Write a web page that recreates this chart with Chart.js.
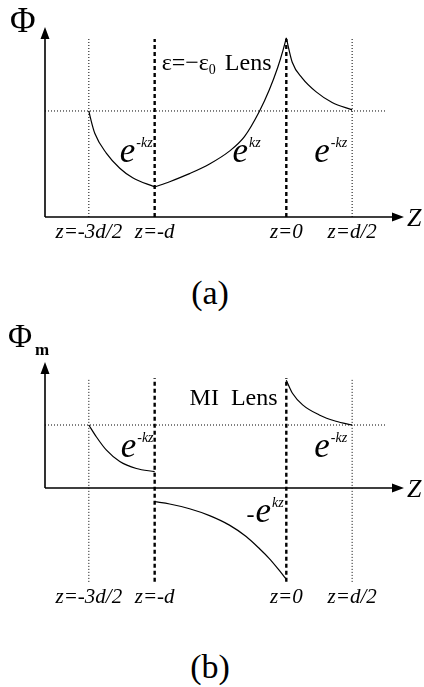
<!DOCTYPE html>
<html lang="en">
  <head>
    <meta charset="UTF-8" />
    <title>Potential profiles - lens</title>
    <script src="https://cdn.jsdelivr.net/npm/chart.js@4.4.0/dist/chart.umd.min.js"></script>
    <style>
      html, body { margin: 0; padding: 0; background: #fff; }
      body {
        width: 424px; height: 687px; position: relative; overflow: hidden;
        font-family: "Liberation Serif", "Times New Roman", serif;
      }
      .panel { position: absolute; left: 0; width: 424px; }
      #wrapA { top: 0; height: 245px; }
      #wrapB { top: 310px; height: 300px; }
      .caption {
        position: absolute; left: 0; width: 420px; text-align: center;
        font-size: 34px; line-height: 34px; color: #000;
      }
    </style>
  </head>
  <body>
    <div class="panel" id="wrapA"><canvas id="chartA" width="424" height="245"></canvas></div>
    <div class="caption" style="top: 276px">(a)</div>
    <div class="panel" id="wrapB"><canvas id="chartB" width="424" height="300"></canvas></div>
    <div class="caption" style="top: 650px">(b)</div>

    <script>
      // z positions (in units of d) and their labels
      const zTicks = [-1.5, -1, 0, 0.5];
      const zTickLabels = ["z=-3d/2", "z=-d", "z=0", "z=d/2"];

      // (a)  eps = -eps0 lens, potential Phi
      const aLeftZ = [-1.5, -1.485, -1.455, -1.366, -1.265, -1.167, -1.0];
      const aLeftPhi = [1.0, 0.92, 0.79, 0.6, 0.46, 0.37, 0.283];
      const aMidZ = [-1.0, -0.886, -0.735, -0.583, -0.432, -0.318, -0.205, -0.129, -0.066, -0.028, 0];
      const aMidPhi = [0.283, 0.333, 0.409, 0.5, 0.621, 0.758, 0.995, 1.2, 1.408, 1.56, 1.689];
      const aRightZ = [0, 0.045, 0.121, 0.227, 0.348, 0.5];
      const aRightPhi = [1.689, 1.46, 1.31, 1.18, 1.08, 1.01];

      // (b)  MI lens, magnetic potential Phi_m
      const bLeftZ = [-1.5, -1.442, -1.366, -1.265, -1.139, -1.0];
      const bLeftPhi = [1.0, 0.81, 0.6, 0.42, 0.31, 0.26];
      const bMidZ = [-1.0, -0.886, -0.735, -0.583, -0.432, -0.305, -0.205, -0.129, -0.066, -0.015, 0];
      const bMidPhi = [-0.217, -0.254, -0.329, -0.438, -0.589, -0.77, -0.96, -1.12, -1.275, -1.41, -1.445];
      const bRightZ = [0, 0.048, 0.124, 0.25, 0.377, 0.5];
      const bRightPhi = [1.71, 1.5, 1.32, 1.16, 1.06, 1.0];

      // reference level (Phi = 1) and where the boundary lines end
      const levelPhi = 1;
      const levelEndZ = 0.75;
      const aBoundTop = 1.68;
      const bBoundTop = 1.746;
      const bBoundBottom = -1.49;

      const zMin = -1.833;
      const zMax = 0.894;
      const SERIF = '"Liberation Serif", "Times New Roman", serif';

      function curveSet(zs, vals) {
        return {
          data: zs.map((z, i) => ({ x: z, y: vals[i] })),
          showLine: true,
          borderColor: "#000",
          borderWidth: 1.2,
          pointRadius: 0,
          cubicInterpolationMode: "monotone",
        };
      }

      function boundarySet(z, lo, hi) {
        const bold = z === -1 || z === 0;
        return {
          data: [{ x: z, y: lo }, { x: z, y: hi }],
          showLine: true,
          borderColor: "#000",
          borderWidth: bold ? 2.4 : 1,
          borderDash: bold ? [4, 3] : [1, 2],
          pointRadius: 0,
        };
      }

      function levelSet() {
        return {
          data: [{ x: zMin, y: levelPhi }, { x: levelEndZ, y: levelPhi }],
          showLine: true,
          borderColor: "#000",
          borderWidth: 1,
          borderDash: [1, 2],
          pointRadius: 0,
        };
      }

      // draws a run of text pieces (for sub/superscripts)
      function drawRich(ctx, x, y, parts) {
        let cx = x;
        parts.forEach((p) => {
          ctx.font = (p.italic ? "italic " : "") + (p.bold ? "bold " : "") + p.size + "px " + SERIF;
          ctx.fillText(p.t, cx, y + (p.dy || 0));
          cx += ctx.measureText(p.t).width + (p.gap || 0);
        });
      }

      const overlay = {
        id: "overlay",
        afterDatasetsDraw(chart, args, opts) {
          const { ctx, scales: { x, y } } = chart;
          const x0 = x.getPixelForValue(zMin);
          const y0 = y.getPixelForValue(0);
          const xEnd = x.getPixelForValue(zMax);
          const yTop = y.top;
          ctx.save();
          ctx.strokeStyle = "#000";
          ctx.fillStyle = "#000";
          ctx.lineWidth = 1.6;
          ctx.beginPath();
          ctx.moveTo(x0, y0);
          ctx.lineTo(xEnd - 8, y0);
          ctx.moveTo(x0, y0);
          ctx.lineTo(x0, yTop + 8);
          ctx.stroke();
          // arrow heads
          ctx.beginPath();
          ctx.moveTo(xEnd, y0);
          ctx.lineTo(xEnd - 12, y0 - 4.5);
          ctx.lineTo(xEnd - 12, y0 + 4.5);
          ctx.closePath();
          ctx.moveTo(x0, yTop);
          ctx.lineTo(x0 - 4.5, yTop + 12);
          ctx.lineTo(x0 + 4.5, yTop + 12);
          ctx.closePath();
          ctx.fill();

          ctx.textBaseline = "alphabetic";
          ctx.textAlign = "left";
          // axis names
          drawRich(ctx, xEnd + 3, y0 + 8.5, [{ t: "Z", size: 26, italic: true }]);
          if (opts.sub) {
            drawRich(ctx, x0 - 37, yTop - 15, [{ t: "Φ", size: 33 }]);
            drawRich(ctx, x0 - 10, yTop - 7, [{ t: opts.sub, size: 17, bold: true }]);
          } else {
            drawRich(ctx, x0 - 35, yTop + 5, [{ t: "Φ", size: 35 }]);
          }
          // annotations
          (opts.notes || []).forEach((n) => {
            drawRich(ctx, x.getPixelForValue(n.z), y.getPixelForValue(n.v), n.parts);
          });
          ctx.restore();
        },
      };

      function expLabel(pre, sup) {
        const parts = [];
        if (pre) parts.push({ t: pre, size: 24, italic: true, gap: 1 });
        parts.push({ t: "e", size: 35, italic: true, gap: 1 });
        parts.push({ t: sup, size: 14, italic: true, dy: -15 });
        return parts;
      }

      function makeChart(id, datasets, yMin, yMax, padTop, overlayOpts) {
        return new Chart(document.getElementById(id), {
          type: "scatter",
          data: { datasets },
          plugins: [overlay],
          options: {
            responsive: false,
            animation: false,
            layout: { padding: { left: 45, right: 20, top: padTop, bottom: 0 } },
            plugins: { legend: { display: false }, tooltip: { enabled: false }, overlay: overlayOpts },
            scales: {
              x: {
                type: "linear",
                min: zMin,
                max: zMax,
                border: { display: false },
                grid: { display: false, drawTicks: false },
                afterBuildTicks: (s) => { s.ticks = zTicks.map((v) => ({ value: v })); },
                afterFit: (s) => { s.height = 28; },
                ticks: {
                  padding: 3,
                  autoSkip: false,
                  maxRotation: 0,
                  color: "#000",
                  font: { family: SERIF, size: 21, style: "italic" },
                  callback: (v) => zTickLabels[zTicks.indexOf(v)],
                },
              },
              y: { type: "linear", display: false, min: yMin, max: yMax },
            },
          },
        });
      }

      makeChart(
        "chartA",
        [
          curveSet(aLeftZ, aLeftPhi),
          curveSet(aMidZ, aMidPhi),
          curveSet(aRightZ, aRightPhi),
          levelSet(),
          ...zTicks.map((z) => boundarySet(z, 0, aBoundTop)),
        ],
        0, 1.792, 27,
        {
          notes: [
            { z: -0.947, v: 1.387, parts: [
              { t: "ε=−ε", size: 24 },
              { t: "0", size: 14, dy: 4, gap: 9 },
              { t: "Lens", size: 24 },
            ] },
            { z: -1.265, v: 0.52, parts: expLabel("", "-kz") },
            { z: -0.409, v: 0.52, parts: expLabel("", "kz") },
            { z: 0.212, v: 0.52, parts: expLabel("", "-kz") },
          ],
        }
      );

      makeChart(
        "chartB",
        [
          curveSet(bLeftZ, bLeftPhi),
          curveSet(bMidZ, bMidPhi),
          curveSet(bRightZ, bRightPhi),
          levelSet(),
          ...zTicks.map((z) => boundarySet(z, bBoundBottom, bBoundTop)),
        ],
        -1.492, 2.0, 52,
        {
          sub: "m",
          notes: [
            { z: -0.735, v: 1.317, parts: [{ t: "MI  Lens", size: 24 }] },
            { z: -1.258, v: 0.49, parts: expLabel("", "-kz") },
            { z: 0.212, v: 0.49, parts: expLabel("", "-kz") },
            { z: -0.303, v: -0.54, parts: expLabel("-", "kz") },
          ],
        }
      );
    </script>
  </body>
</html>
